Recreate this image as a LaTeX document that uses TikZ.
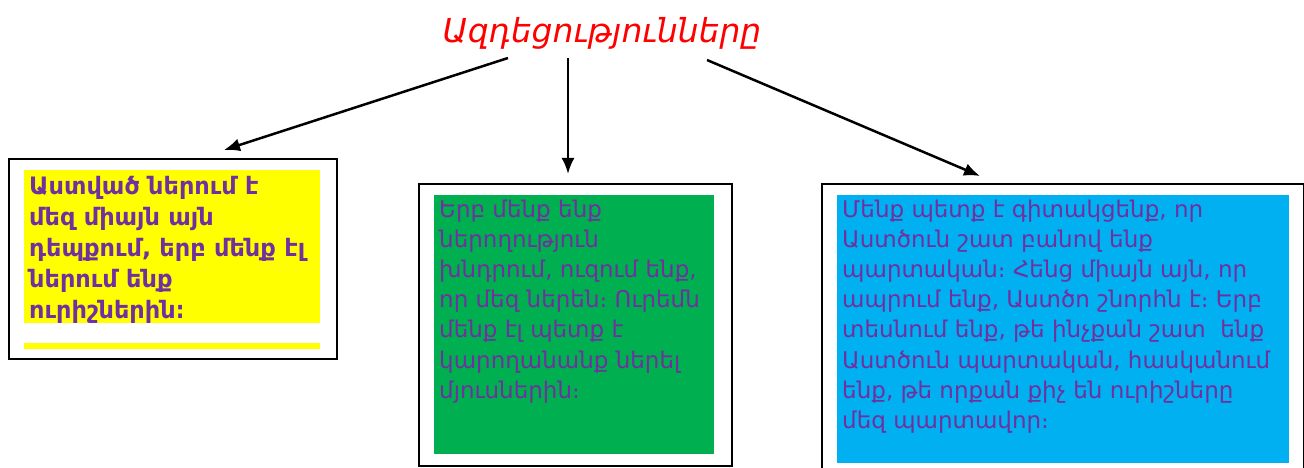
\documentclass[tikz,border=0pt]{standalone}
\usepackage{fontspec}
\setmainfont{DejaVu Sans}
\usetikzlibrary{arrows.meta}
\usetikzlibrary{positioning}
\definecolor{inkpurple}{HTML}{7030A0}
\definecolor{padyellow}{HTML}{FFFF00}
\definecolor{padgreen}{HTML}{00B050}
\definecolor{padblue}{HTML}{00B0F0}
\begin{document}
\begin{tikzpicture}[x=1pt,y=-1pt,
  frame/.style={draw,line width=2pt,anchor=north west,inner sep=0pt},
  pad/.style={anchor=north west,inner sep=0pt},
  body/.style={anchor=north west,align=left,text=inkpurple,inner sep=0pt,
    font=\fontsize{23}{30.2}\selectfont},
  link/.style={line width=2.5pt,-{Latex[length=16pt,width=13pt]}}]
\useasboundingbox (0,0) rectangle (1304,468);
\clip (0,0) rectangle (1304,468);

\node[text=red,anchor=base,font=\fontsize{33}{38}\itshape\selectfont] (title) at (602,43) {Ազդեցությունները};

% left box
\node[frame,minimum width=328pt,minimum height=200pt] (box1) at (8,158) {};
\node[pad,fill=padyellow,minimum width=296pt,minimum height=153pt] (fill1) at (24,170) {};
\node[pad,fill=padyellow,minimum width=296pt,minimum height=6pt] (bar1) at (24,343) {};
\node[body,font=\fontsize{24}{31}\bfseries\selectfont] (txt1) at (29,176.5)
  {Աստված ներում է\\մեզ միայն այն\\դեպքում, երբ մենք էլ\\ներում ենք\\ուրիշներին։};

% middle box
\node[frame,minimum width=313pt,minimum height=282pt] (box2) at (418,183) {};
\node[pad,fill=padgreen,minimum width=280pt,minimum height=259pt] (fill2) at (434,195) {};
\node[body] (txt2) at (439,199.5)
  {Երբ մենք ենք\\ներողություն\\խնդրում, ուզում ենք,\\որ մեզ ներեն։ Ուրեմն\\մենք էլ պետք է\\կարողանանք ներել\\մյուսներին։};

% right box
\node[frame,minimum width=482pt,minimum height=300pt] (box3) at (821,183) {};
\node[pad,fill=padblue,minimum width=452pt,minimum height=268pt] (fill3) at (837,195) {};
\node[body] (txt3) at (842,199.5)
  {Մենք պետք է գիտակցենք, որ\\Աստծուն շատ բանով ենք\\պարտական։ Հենց միայն այն, որ\\ապրում ենք, Աստծո շնորհն է։ Երբ\\տեսնում ենք, թե ինչքան շատ\ \ ենք\\Աստծուն պարտական, հասկանում\\ենք, թե որքան քիչ են ուրիշները\\մեզ պարտավոր։};

\coordinate (from1) at (508,58);
\coordinate (from2) at (568,58);
\coordinate (from3) at (707,60);
\coordinate (to1) at (224,150);
\coordinate (to2) at (568,174);
\coordinate (to3) at (980,176);
\draw[link] (from1) -- (to1);
\draw[link] (from2) -- (to2);
\draw[link] (from3) -- (to3);
\end{tikzpicture}
\end{document}
